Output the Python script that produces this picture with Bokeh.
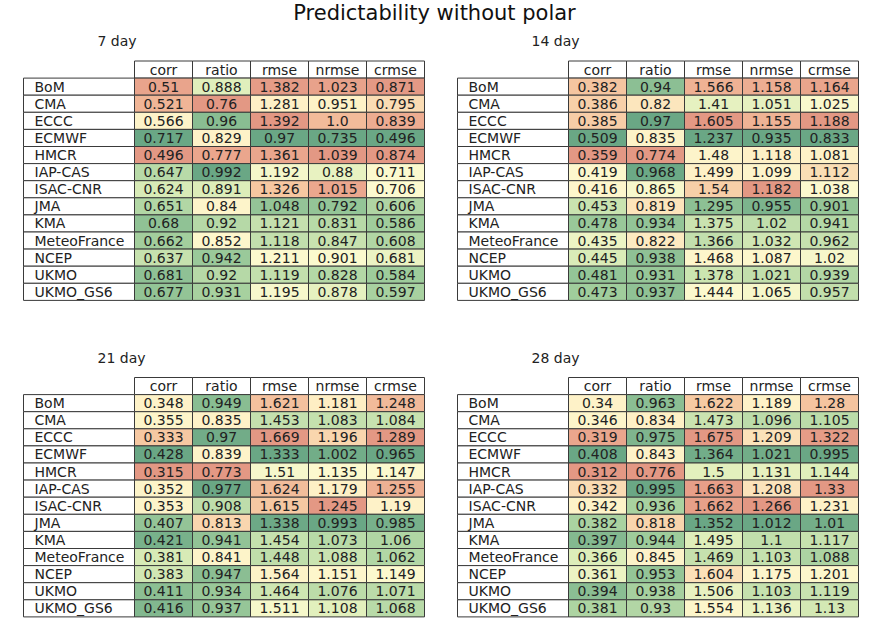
from bokeh.plotting import figure
from bokeh.models import ColumnDataSource, Range1d
from bokeh.embed import file_html
from bokeh.resources import INLINE
from bokeh.core.properties import value

# ---------------- data ----------------
models = ["BoM", "CMA", "ECCC", "ECMWF", "HMCR", "IAP-CAS", "ISAC-CNR", "JMA",
          "KMA", "MeteoFrance", "NCEP", "UKMO", "UKMO_GS6"]
metrics = ["corr", "ratio", "rmse", "nrmse", "crmse"]
higher_is_better = [True, True, False, False, False]
leads = ["7 day", "14 day", "21 day", "28 day"]
title = "Predictability without polar"

corr_7 = [0.51, 0.521, 0.566, 0.717, 0.496, 0.647, 0.624, 0.651, 0.68, 0.662, 0.637, 0.681, 0.677]
ratio_7 = [0.888, 0.76, 0.96, 0.829, 0.777, 0.992, 0.891, 0.84, 0.92, 0.852, 0.942, 0.92, 0.931]
rmse_7 = [1.382, 1.281, 1.392, 0.97, 1.361, 1.192, 1.326, 1.048, 1.121, 1.118, 1.211, 1.119, 1.195]
nrmse_7 = [1.023, 0.951, 1.0, 0.735, 1.039, 0.88, 1.015, 0.792, 0.831, 0.847, 0.901, 0.828, 0.878]
crmse_7 = [0.871, 0.795, 0.839, 0.496, 0.874, 0.711, 0.706, 0.606, 0.586, 0.608, 0.681, 0.584, 0.597]

corr_14 = [0.382, 0.386, 0.385, 0.509, 0.359, 0.419, 0.416, 0.453, 0.478, 0.435, 0.445, 0.481, 0.473]
ratio_14 = [0.94, 0.82, 0.97, 0.835, 0.774, 0.968, 0.865, 0.819, 0.934, 0.822, 0.938, 0.931, 0.937]
rmse_14 = [1.566, 1.41, 1.605, 1.237, 1.48, 1.499, 1.54, 1.295, 1.375, 1.366, 1.468, 1.378, 1.444]
nrmse_14 = [1.158, 1.051, 1.155, 0.935, 1.118, 1.099, 1.182, 0.955, 1.02, 1.032, 1.087, 1.021, 1.065]
crmse_14 = [1.164, 1.025, 1.188, 0.833, 1.081, 1.112, 1.038, 0.901, 0.941, 0.962, 1.02, 0.939, 0.957]

corr_21 = [0.348, 0.355, 0.333, 0.428, 0.315, 0.352, 0.353, 0.407, 0.421, 0.381, 0.383, 0.411, 0.416]
ratio_21 = [0.949, 0.835, 0.97, 0.839, 0.773, 0.977, 0.908, 0.813, 0.941, 0.841, 0.947, 0.934, 0.937]
rmse_21 = [1.621, 1.453, 1.669, 1.333, 1.51, 1.624, 1.615, 1.338, 1.454, 1.448, 1.564, 1.464, 1.511]
nrmse_21 = [1.181, 1.083, 1.196, 1.002, 1.135, 1.179, 1.245, 0.993, 1.073, 1.088, 1.151, 1.076, 1.108]
crmse_21 = [1.248, 1.084, 1.289, 0.965, 1.147, 1.255, 1.19, 0.985, 1.06, 1.062, 1.149, 1.071, 1.068]

corr_28 = [0.34, 0.346, 0.319, 0.408, 0.312, 0.332, 0.342, 0.382, 0.397, 0.366, 0.361, 0.394, 0.381]
ratio_28 = [0.963, 0.834, 0.975, 0.843, 0.776, 0.995, 0.936, 0.818, 0.944, 0.845, 0.953, 0.938, 0.93]
rmse_28 = [1.622, 1.473, 1.675, 1.364, 1.5, 1.663, 1.662, 1.352, 1.495, 1.469, 1.604, 1.506, 1.554]
nrmse_28 = [1.189, 1.096, 1.209, 1.021, 1.131, 1.208, 1.266, 1.012, 1.1, 1.103, 1.175, 1.103, 1.136]
crmse_28 = [1.28, 1.105, 1.322, 0.995, 1.144, 1.33, 1.231, 1.01, 1.117, 1.088, 1.201, 1.119, 1.13]

tables = [
    [corr_7, ratio_7, rmse_7, nrmse_7, crmse_7],
    [corr_14, ratio_14, rmse_14, nrmse_14, crmse_14],
    [corr_21, ratio_21, rmse_21, nrmse_21, crmse_21],
    [corr_28, ratio_28, rmse_28, nrmse_28, crmse_28],
]

# ---------------- colour map (light red-yellow-green) ----------------
stops = [
    (0.00, (227, 152, 132)),
    (0.08, (235, 167, 142)),
    (0.16, (246, 200, 162)),
    (0.26, (254, 240, 198)),
    (0.45, (252, 250, 207)),
    (0.56, (222, 238, 186)),
    (0.76, (160, 205, 156)),
    (1.00, (106, 167, 133)),
]


def cmap(t):
    t = min(max(t, 0.0), 1.0)
    for (t0, c0), (t1, c1) in zip(stops[:-1], stops[1:]):
        if t <= t1:
            f = 0 if t1 == t0 else (t - t0) / (t1 - t0)
            c = [round(a + (b - a) * f) for a, b in zip(c0, c1)]
            return "#%02x%02x%02x" % tuple(c)
    return "#%02x%02x%02x" % stops[-1][1]


# ---------------- layout ----------------
W, H = 865, 625
p = figure(width=W, height=H, output_backend="svg", toolbar_location=None,
           x_range=Range1d(0, W), y_range=Range1d(H, 0), min_border=0,
           background_fill_color="white", border_fill_color="white")
p.axis.visible = False
p.grid.visible = False
p.outline_line_color = None

CW = 58.0       # data column width
LW = 111.0      # label column width
RH = 17.1       # row height
data_left = [134.0, 568.0, 134.0, 568.0]
head_top = [60.5, 60.5, 377.0, 377.0]
sub_pos = [(97, 40), (531, 40), (97, 357), (531, 357)]

FONT = value("DejaVu Sans")
EDGE = "#3a3a3a"
TXT = "#222222"
FS = "14px"

for k, cols in enumerate(tables):
    x0, y0 = data_left[k], head_top[k]
    # header cells
    hx = [x0 + (j + 0.5) * CW for j in range(len(metrics))]
    hy = [y0 + RH / 2] * len(metrics)
    hs = ColumnDataSource(dict(x=hx, y=hy, t=metrics))
    p.rect("x", "y", width=CW, height=RH, source=hs, fill_color="white",
           line_color=EDGE, line_width=1)
    p.text("x", "y", text="t", source=hs, text_align="center", text_baseline="middle",
           text_font=FONT, text_font_size=FS, text_color=TXT)
    # label cells
    ly = [y0 + RH + (i + 0.5) * RH for i in range(len(models))]
    ls = ColumnDataSource(dict(x=[x0 - LW / 2] * len(models), y=ly,
                               tx=[x0 - LW + 11] * len(models), t=models))
    p.rect("x", "y", width=LW, height=RH, source=ls, fill_color="white",
           line_color=EDGE, line_width=1)
    p.text("tx", "y", text="t", source=ls, text_align="left", text_baseline="middle",
           text_font=FONT, text_font_size=FS, text_color=TXT)
    # data cells
    xs, ys, txt, col = [], [], [], []
    for j, vals in enumerate(cols):
        lo, hi = min(vals), max(vals)
        for i, v in enumerate(vals):
            t = (v - lo) / (hi - lo)
            if not higher_is_better[j]:
                t = 1 - t
            xs.append(x0 + (j + 0.5) * CW)
            ys.append(y0 + RH + (i + 0.5) * RH)
            txt.append(str(v))
            col.append(cmap(t))
    ds = ColumnDataSource(dict(x=xs, y=ys, t=txt, c=col))
    p.rect("x", "y", width=CW, height=RH, source=ds, fill_color="c",
           line_color=EDGE, line_width=1)
    p.text("x", "y", text="t", source=ds, text_align="center", text_baseline="middle",
           text_font=FONT, text_font_size=FS, text_color=TXT)
    # subplot title
    sx, sy = sub_pos[k]
    p.text(x=[sx], y=[sy], text=[leads[k]], text_align="left", text_baseline="middle",
           text_font=FONT, text_font_size="14px", text_color=TXT)

p.text(x=[434], y=[12], text=[title], text_align="center", text_baseline="middle",
       text_font=FONT, text_font_size="21px", text_color="#111111")

open("out.html", "w").write(file_html(p, INLINE))
